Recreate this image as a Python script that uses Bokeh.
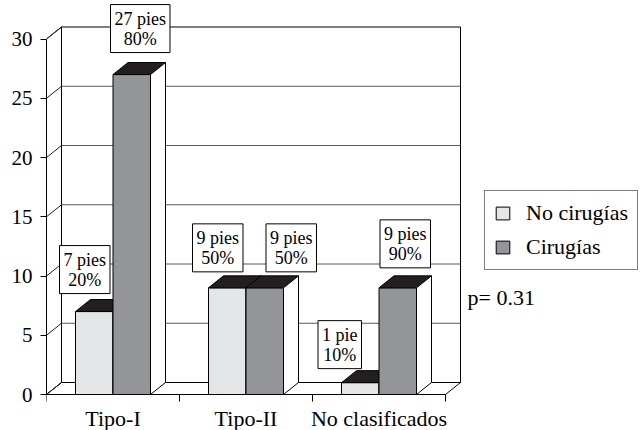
from bokeh.plotting import figure
from bokeh.models import Range1d, LinearAxis, FixedTicker, Label, Legend, LegendItem
from bokeh.core.properties import value
from bokeh.embed import file_html
from bokeh.resources import INLINE

# Data
categories = ["Tipo-I", "Tipo-II", "No clasificados"]
no_cirugias = [7, 9, 1]
cirugias = [27, 9, 9]
pct_no_cirugias = ["20%", "50%", "10%"]
pct_cirugias = ["80%", "50%", "90%"]
y_ticks = [0, 5, 10, 15, 20, 25, 30]
series_names = ["No cirugías", "Cirugías"]
p_value_text = "p= 0.31"

# Layout (pixels)
W, H = 641, 430
LEFT, BOTTOM = 46, 36
CAT_PX = 133.0          # width of one category slot
UNIT_PX = 11.85         # pixels per unit on the value axis
DEPTH_X, DEPTH_Y = 15, 12
BAR_PX = 37.5
TICK_PX = 7

FONT = "Liberation Serif"
COL_NO = "#e4e5e7"
COL_CI = "#939598"
COL_TOP = "#231f20"

n = len(categories)
y_max = y_ticks[-1]
DX = DEPTH_X / CAT_PX
DY = DEPTH_Y / UNIT_PX
BW = BAR_PX / CAT_PX

p = figure(width=W, height=H,
           x_range=Range1d(0, (W - LEFT) / CAT_PX),
           y_range=Range1d(-BOTTOM / UNIT_PX, (H - BOTTOM) / UNIT_PX),
           output_backend="svg", toolbar_location=None,
           x_axis_location=None, y_axis_location=None,
           min_border_left=LEFT, min_border_bottom=0,
           min_border_top=0, min_border_right=0)
p.outline_line_color = None
p.background_fill_color = "white"
p.border_fill_color = "white"
p.renderers = [r for r in p.renderers if r.__class__.__name__ != "Grid"]
p.center = [r for r in p.center if r.__class__.__name__ != "Grid"]

# Walls and floor of the 3D box
p.patch([0, DX, DX, 0], [0, DY, y_max + DY, y_max],
        fill_color="white", line_color="black", line_width=1)
p.quad(left=DX, right=n + DX, bottom=DY, top=y_max + DY,
       fill_color="white", line_color="black", line_width=1)
p.patch([0, n, n + DX, DX], [0, 0, DY, DY],
        fill_color="white", line_color="black", line_width=1)

# Gridlines on back wall and their diagonals on the side wall
grid_vals = y_ticks[1:-1]
p.multi_line([[DX, n + DX] for v in grid_vals], [[v + DY, v + DY] for v in grid_vals],
             line_color="#58595b", line_width=1)
p.multi_line([[0, DX] for v in y_ticks], [[v, v + DY] for v in y_ticks],
             line_color="#231f20", line_width=1)

# Bars, drawn left to right so nearer faces cover the ones behind
label_shift = [[-17, -17, -28], [1, 19, 0]]
label_gap = [[6, 4, 2], [10, 4, 8]]
series_vals = [no_cirugias, cirugias]
series_pct = [pct_no_cirugias, pct_cirugias]
series_cols = [COL_NO, COL_CI]
legend_renderers = [None, None]

for i in range(n):
    for s in range(2):
        v = series_vals[s][i]
        l = i + 0.5 - BW + s * BW
        r = l + BW
        front = p.quad(left=l, right=r, bottom=0, top=v,
                       fill_color=series_cols[s], line_color="black", line_width=1)
        if legend_renderers[s] is None:
            legend_renderers[s] = front
        p.patch([l, r, r + DX, l + DX], [v, v, v + DY, v + DY],
                fill_color=COL_TOP, line_color="black", line_width=1)
        p.patch([r, r + DX, r + DX, r], [0, DY, v + DY, v],
                fill_color="white", line_color="black", line_width=1)

        unit = "pie" if v == 1 else "pies"
        p.add_layout(Label(x=l + BW / 2 + DX / 2, y=v + DY,
                           x_offset=label_shift[s][i], y_offset=label_gap[s][i],
                           text=f"{v} {unit}\n{series_pct[s][i]}",
                           anchor="bottom_center", text_align="center",
                           text_font=FONT, text_font_size="18px", text_color="black",
                           text_line_height=1.0,
                           background_fill_color="white", border_line_color="black",
                           border_line_width=1, padding=4))

# Value axis
yaxis = LinearAxis(ticker=FixedTicker(ticks=y_ticks), bounds=(0, y_max),
                   major_tick_out=6, major_tick_in=0,
                   minor_tick_out=0, minor_tick_in=0,
                   major_label_standoff=8,
                   major_label_text_font=FONT, major_label_text_font_size="21px",
                   major_label_text_color="black",
                   axis_line_color="black", major_tick_line_color="black")
p.add_layout(yaxis, "left")

# Category axis: line along the front floor edge, ticks at slot boundaries,
# names under slot centres
bounds = list(range(n + 1))
centers = [i + 0.5 for i in range(n)]
p.segment(x0=0, y0=0, x1=n, y1=0, line_color="black", line_width=1)
p.segment(x0=bounds, y0=[0] * len(bounds), x1=bounds,
          y1=[-TICK_PX / UNIT_PX] * len(bounds), line_color="black", line_width=1)
p.text(x=centers, y=[0] * n, text=categories, y_offset=11,
       text_align="center", text_baseline="top",
       text_font=value(FONT), text_font_size="22px", text_color="black")

# Legend
legend = Legend(items=[LegendItem(label=series_names[0], renderers=[legend_renderers[0]]),
                       LegendItem(label=series_names[1], renderers=[legend_renderers[1]])],
                location=(438, 124 + BOTTOM), border_line_color="black", border_line_width=1,
                label_text_font=FONT, label_text_font_size="22px", label_text_color="black",
                glyph_width=17, glyph_height=16, padding=9, spacing=8,
                label_standoff=15, margin=0, background_fill_alpha=1)
p.add_layout(legend)

p.add_layout(Label(x=(467 - LEFT) / CAT_PX, y=(394 - 297) / UNIT_PX,
                   text=p_value_text, text_baseline="middle",
                   text_font=FONT, text_font_size="22px", text_color="black"))

open("out.html", "w").write(file_html(p, INLINE))
